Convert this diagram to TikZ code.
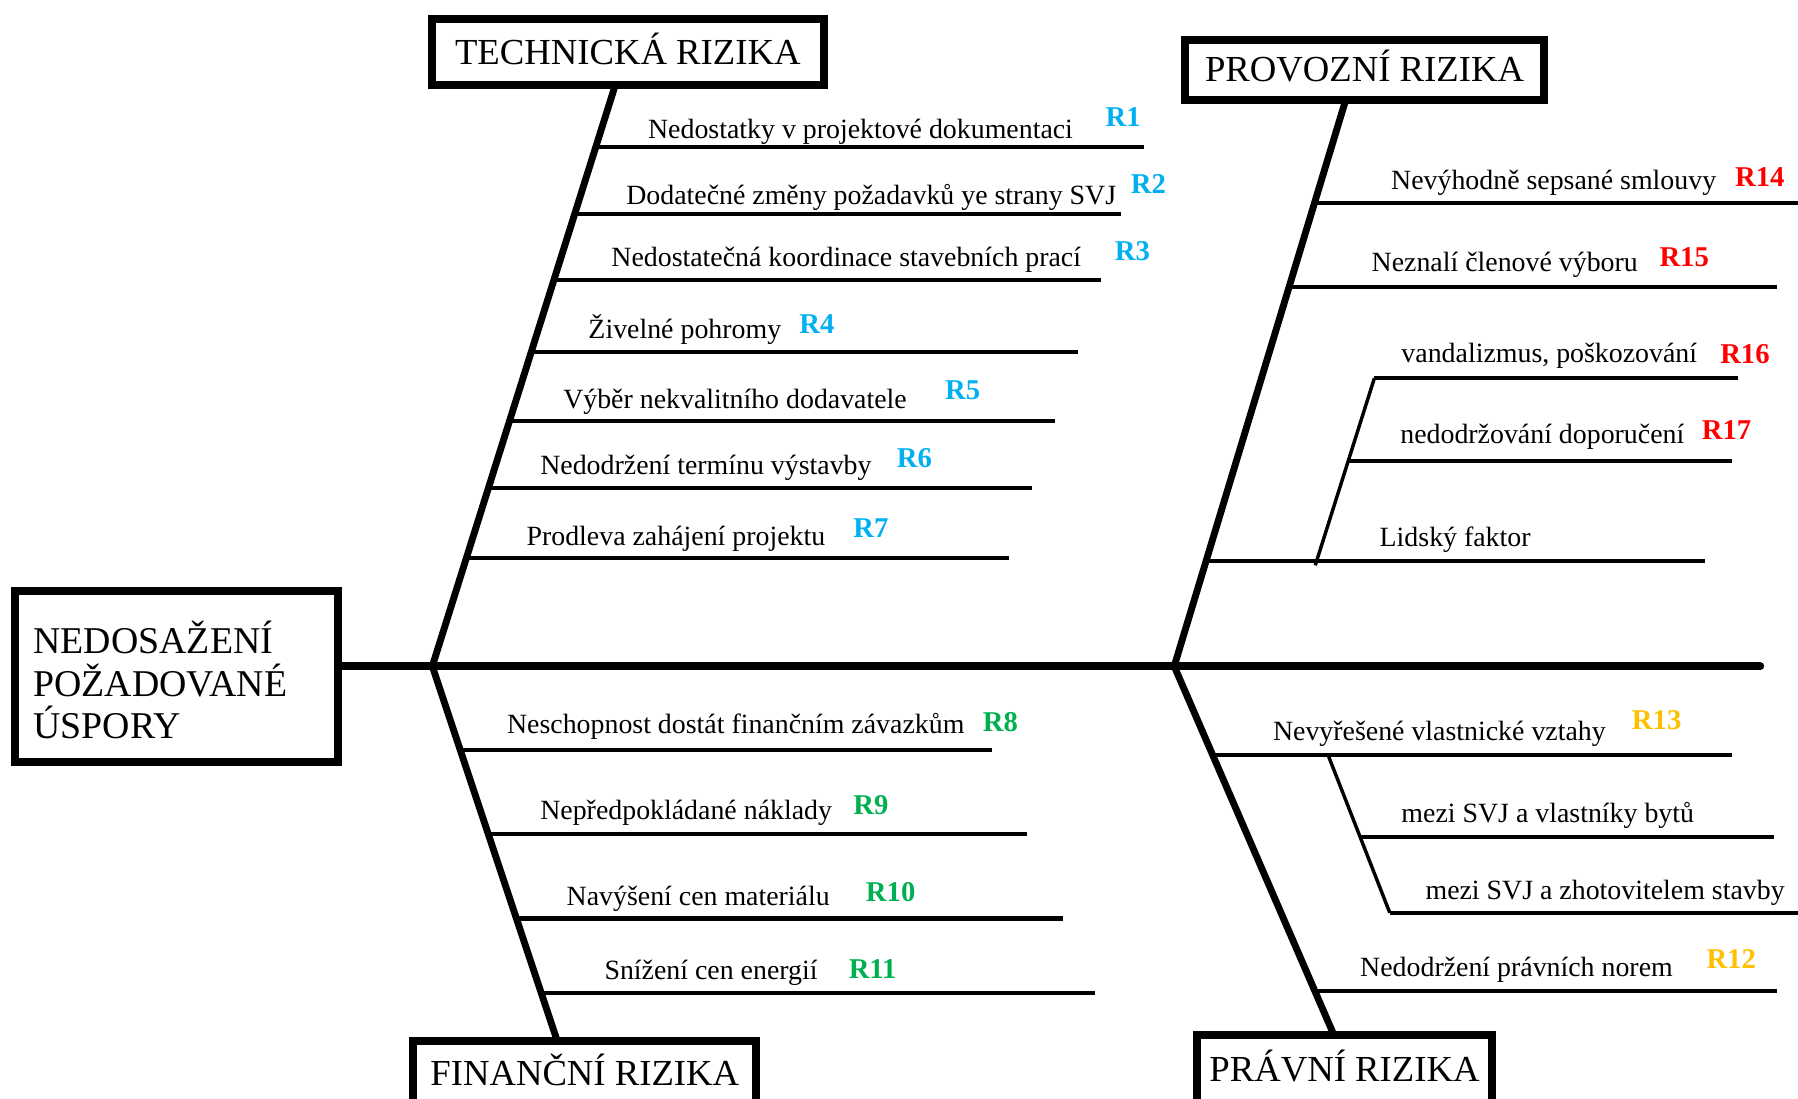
\documentclass[tikz,border=0pt]{standalone}
\usepackage{fontspec}
\setmainfont{Liberation Serif}
\definecolor{rblue}{HTML}{00B0F0}
\definecolor{rgreen}{HTML}{00B050}
\definecolor{rgold}{HTML}{FFC000}
\definecolor{rred}{HTML}{FF0000}
\tikzset{
  titlebox/.style={draw, line width=7pt, inner sep=0pt, font=\fontsize{32}{38}\selectfont, text height=21pt, text depth=0pt},
  maintxt/.style={anchor=base west, inner sep=0pt, font=\fontsize{33}{38}\selectfont},
  lbl/.style={anchor=base west, inner sep=0pt, font=\fontsize{24.3}{29}\selectfont},
  rid/.style={anchor=base west, inner sep=0pt, font=\fontsize{25}{30}\selectfont\bfseries},
  spine/.style={line width=7pt},
  bone/.style={line width=6pt, line join=miter},
  branch/.style={line width=3.5pt},
  subbone/.style={line width=3pt},
}
\begin{document}
\begin{tikzpicture}[x=1pt,y=-1pt]
\useasboundingbox (0,0) rectangle (1568,958);
\clip (0,0) rectangle (1568,958);

% boxes
\node[titlebox, minimum width=281pt, minimum height=149pt] (main) at (154,590) {};
\node[maintxt] (mainA) at (29,570) {NEDOSAŽENÍ};
\node[maintxt] (mainB) at (29,607) {POŽADOVANÉ};
\node[maintxt] (mainC) at (29,644) {ÚSPORY};
\node[titlebox, minimum width=342pt, minimum height=58pt] (tech) at (547.5,45.5) {TECHNICKÁ RIZIKA};
\node[titlebox, minimum width=313pt, minimum height=53pt] (prov) at (1190,61) {PROVOZNÍ RIZIKA};
\node[titlebox, minimum width=299pt, minimum height=58pt] (fin) at (510,936.5) {FINANČNÍ RIZIKA};
\node[titlebox, minimum width=258pt, minimum height=60pt] (prav) at (1172.5,932.5) {PRÁVNÍ RIZIKA};

% spine and bones
\coordinate (forkL) at (377,581);
\coordinate (forkR) at (1024,581);
\coordinate (spineEnd) at (1535,581);
\coordinate (techTop) at (536,76);
\coordinate (finBot) at (486,908);
\coordinate (provTop) at (1173,89);
\coordinate (pravBot) at (1163,902);
\draw[spine, line cap=round] (main.east |- spineEnd) -- (spineEnd);
\draw[bone] (techTop) -- (forkL) -- (finBot);
\draw[bone] (provTop) -- (forkR) -- (pravBot);

% technical branches
\coordinate (t1a) at (520.3,128);  \coordinate (t1b) at (998,128);
\coordinate (t2a) at (501.8,187);  \coordinate (t2b) at (978,187);
\coordinate (t3a) at (483.9,244);  \coordinate (t3b) at (960,244);
\coordinate (t4a) at (464.1,307);  \coordinate (t4b) at (940,307);
\coordinate (t5a) at (445.2,367);  \coordinate (t5b) at (920,367);
\coordinate (t6a) at (426.7,426);  \coordinate (t6b) at (900,426);
\coordinate (t7a) at (407.5,487);  \coordinate (t7b) at (880,487);
\foreach \i in {1,...,7} {\draw[branch] (t\i a) -- (t\i b);}
\node[lbl] (tx1) at (565,121) {Nedostatky v projektové dokumentaci};
\node[lbl] (tx2) at (546,178) {Dodatečné změny požadavků ye strany SVJ};
\node[lbl] (tx3) at (533,232) {Nedostatečná koordinace stavebních prací};
\node[lbl] (tx4) at (513,295) {Živelné pohromy};
\node[lbl] (tx5) at (491,356) {Výběr nekvalitního dodavatele};
\node[lbl] (tx6) at (471,414) {Nedodržení termínu výstavby};
\node[lbl] (tx7) at (459,476) {Prodleva zahájení projektu};
\node[rid, rblue] (r1) at (964,110) {R1};
\node[rid, rblue] (r2) at (986,169) {R2};
\node[rid, rblue] (r3) at (972,227) {R3};
\node[rid, rblue] (r4) at (697,291) {R4};
\node[rid, rblue] (r5) at (824,348) {R5};
\node[rid, rblue] (r6) at (782,408) {R6};
\node[rid, rblue] (r7) at (744,469) {R7};

% financial branches
\coordinate (f8a) at (402.3,654);   \coordinate (f8b) at (865,654);
\coordinate (f9a) at (426.5,727);   \coordinate (f9b) at (896,727);
\coordinate (f10a) at (451.1,801);  \coordinate (f10b) at (927,801);
\coordinate (f11a) at (472.7,866);  \coordinate (f11b) at (955,866);
\foreach \i in {8,...,11} {\draw[branch] (f\i a) -- (f\i b);}
\node[lbl] (fx8) at (442,640) {Neschopnost dostát finančním závazkům};
\node[lbl] (fx9) at (471,715) {Nepředpokládané náklady};
\node[lbl] (fx10) at (494,790) {Navýšení cen materiálu};
\node[lbl] (fx11) at (527,854) {Snížení cen energií};
\node[rid, rgreen] (r8) at (857,638) {R8};
\node[rid, rgreen] (r9) at (744,710) {R9};
\node[rid, rgreen] (r10) at (755,786) {R10};
\node[rid, rgreen] (r11) at (740,853) {R11};

% operational branches
\coordinate (p14a) at (1147,177);   \coordinate (p14b) at (1570,177);
\coordinate (p15a) at (1125,250);   \coordinate (p15b) at (1550,250);
\coordinate (pLa) at (1052.8,489);  \coordinate (pLb) at (1487,489);
\coordinate (psBot) at (1147,493);
\coordinate (p16a) at (1198.5,330); \coordinate (p16b) at (1516,330);
\coordinate (p17a) at (1175.7,402); \coordinate (p17b) at (1510,402);
\draw[branch] (p14a) -- (p14b);
\draw[branch] (p15a) -- (p15b);
\draw[branch] (pLa) -- (pLb);
\draw[subbone] (psBot) -- (p16a);
\draw[branch] (p16a) -- (p16b);
\draw[branch] (p17a) -- (p17b);
\node[lbl] (px14) at (1213,165) {Nevýhodně sepsané smlouvy};
\node[lbl] (px15) at (1196,237) {Neznalí členové výboru};
\node[lbl] (px16) at (1222,316) {vandalizmus, poškozování};
\node[lbl] (px17) at (1221,387) {nedodržování doporučení};
\node[lbl] (pxL) at (1203,477) {Lidský faktor};
\node[rid, rred] (r14) at (1513,163) {R14};
\node[rid, rred] (r15) at (1447,232) {R15};
\node[rid, rred] (r16) at (1500,317) {R16};
\node[rid, rred] (r17) at (1484,383) {R17};

% legal branches
\coordinate (l13a) at (1058.3,658); \coordinate (l13b) at (1510,658);
\coordinate (lsTop) at (1158,658);  \coordinate (lsBot) at (1212,796);
\coordinate (m1a) at (1185.8,730);  \coordinate (m1b) at (1547,730);
\coordinate (m2b) at (1570,796);
\coordinate (l12a) at (1147.4,864); \coordinate (l12b) at (1550,864);
\draw[branch] (l13a) -- (l13b);
\draw[subbone] (lsTop) -- (lsBot);
\draw[branch] (m1a) -- (m1b);
\draw[branch] (lsBot) -- (m2b);
\draw[branch] (l12a) -- (l12b);
\node[lbl] (lx13) at (1110,646) {Nevyřešené vlastnické vztahy};
\node[lbl] (lxm1) at (1222,717) {mezi SVJ a vlastníky bytů};
\node[lbl] (lxm2) at (1243,784) {mezi SVJ a zhotovitelem stavby};
\node[lbl] (lx12) at (1186,852) {Nedodržení právních norem};
\node[rid, rgold] (r13) at (1423,636) {R13};
\node[rid, rgold] (r12) at (1488,845) {R12};
\end{tikzpicture}
\end{document}
